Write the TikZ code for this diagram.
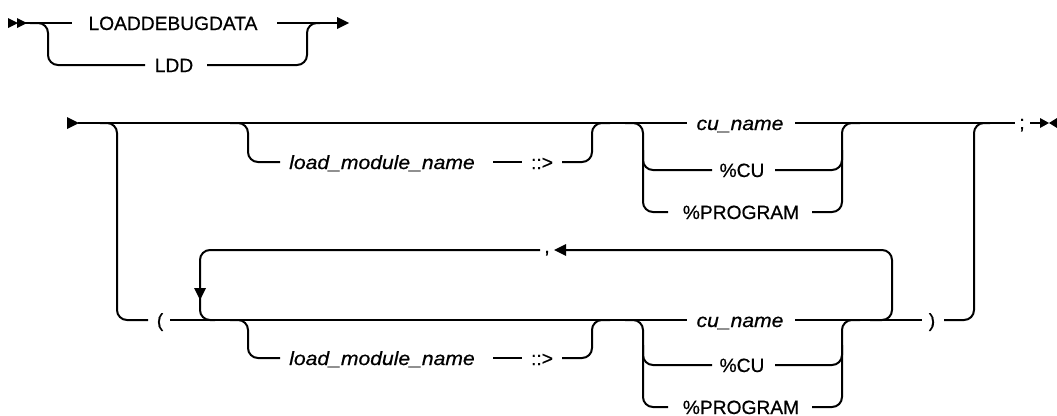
\documentclass[tikz,border=0pt]{standalone}
\usepackage{fontspec}
\setmainfont{Liberation Sans}[UprightFeatures={FakeBold=0.6},ItalicFeatures={FakeStretch=1.1,FakeBold=0.6}]
\begin{document}
\begin{tikzpicture}[x=1pt,y=-1pt,line width=2pt,
  rr/.style={rounded corners=10pt},
  lbl/.style={anchor=base,inner sep=0pt,font=\fontsize{19.2}{22}\selectfont},
  ilbl/.style={lbl,font=\fontsize{19.2}{22}\selectfont\itshape}]
\useasboundingbox (0,0) rectangle (1057,415);
% ---------- section 1 ----------
\fill (8,18) -- (18,23) -- (8,28) -- cycle;
\fill (17,18) -- (27,23) -- (17,28) -- cycle;
\node[lbl] (ldbg) at (173,30) {LOADDEBUGDATA};
\node[lbl] (ldd) at (174,72) {LDD};
\draw (25,23) -- (72,23);
\draw (277,23) -- (338,23);
\fill (337,17) -- (349,23) -- (337,29) -- cycle;
\draw[rr] (30,23) -- (48,23) -- (48,65) -- (145,65);
\draw[rr] (207,65) -- (307,65) -- (307,23) -- (320,23);
% ---------- section 2 ----------
\fill (67,117) -- (79,123) -- (67,129) -- cycle;
\draw (78,123) -- (687,123);
\node[ilbl] (cu1) at (740,130) {cu\_name};
\draw (795,123) -- (1015,123);
\node[lbl] (semi) at (1022,129) {;};
\draw (1030,123) -- (1045,123);
\fill (1040,118) -- (1049,123) -- (1040,128) -- cycle;
\fill (1057,118) -- (1049,123) -- (1057,128) -- cycle;
% outer bracket
\draw[rr] (100,123) -- (117,123) -- (117,320) -- (148,320);
\node[lbl] (lp) at (160,327) {(};
\draw (170,320) -- (687,320);
\node[ilbl] (cu2) at (740,327) {cu\_name};
\draw (795,320) -- (922,320);
\node[lbl] (rp) at (932,327) {)};
\draw[rr] (944,320) -- (974,320) -- (974,123) -- (990,123);
% repeat loop
\draw[rr] (215,320) -- (200,320) -- (200,250) -- (540,250);
\fill (194,288) -- (206,288) -- (200,300) -- cycle;
\node[lbl] (comma) at (547,253) {,};
\fill (566,244) -- (566,256) -- (554,250) -- cycle;
\draw[rr] (565,250) -- (892,250) -- (892,320) -- (870,320);
% optional load_module_name (upper)
\draw[rr] (230,123) -- (248,123) -- (248,162) -- (280,162);
\node[ilbl] (lm1) at (382,169) {load\_module\_name};
\draw (493,162) -- (522,162);
\node[lbl] (cc1) at (542,169) {::>};
\draw[rr] (562,162) -- (592,162) -- (592,123) -- (610,123);
% optional load_module_name (lower)
\draw[rr] (230,320) -- (248,320) -- (248,358) -- (280,358);
\node[ilbl] (lm2) at (382,365) {load\_module\_name};
\draw (493,358) -- (522,358);
\node[lbl] (cc2) at (542,365) {::>};
\draw[rr] (562,358) -- (592,358) -- (592,320) -- (610,320);
% choice (upper)
\draw[rr] (625,123) -- (643,123) -- (643,212) -- (668,212);
\draw[rr] (643,150) -- (643,170) -- (712,170);
\node[lbl] (pcu1) at (742,177) {\%CU};
\node[lbl] (pp1) at (741,219) {\%PROGRAM};
\draw[rr] (775,170) -- (842,170) -- (842,150);
\draw[rr] (812,212) -- (842,212) -- (842,123) -- (860,123);
% choice (lower)
\draw[rr] (625,320) -- (643,320) -- (643,407) -- (668,407);
\draw[rr] (643,345) -- (643,365) -- (712,365);
\node[lbl] (pcu2) at (742,372) {\%CU};
\node[lbl] (pp2) at (741,414) {\%PROGRAM};
\draw[rr] (775,365) -- (842,365) -- (842,345);
\draw[rr] (812,407) -- (842,407) -- (842,320) -- (860,320);
\end{tikzpicture}
\end{document}
